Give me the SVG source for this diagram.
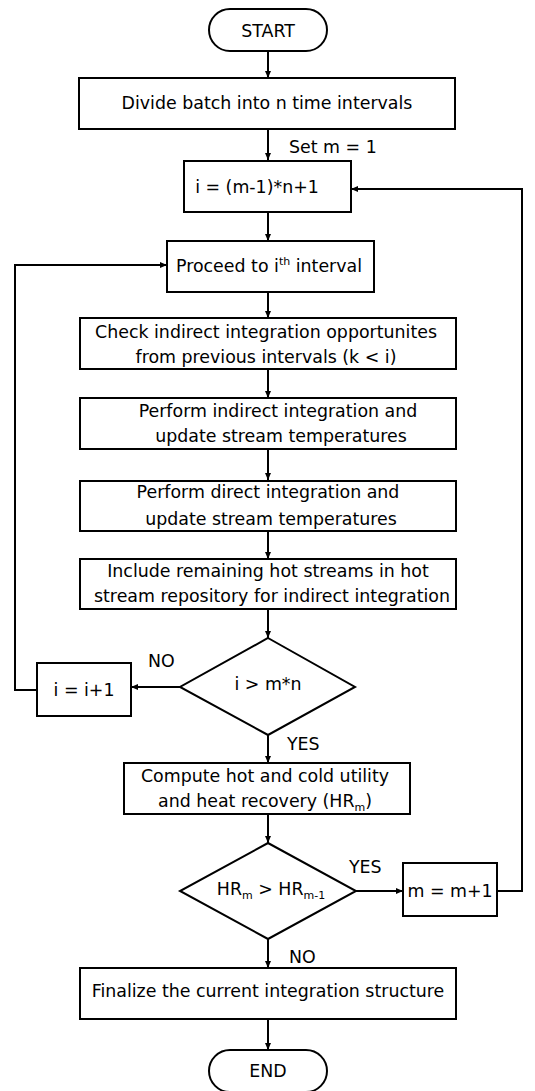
<svg xmlns="http://www.w3.org/2000/svg" width="535" height="1091" viewBox="0 0 535 1091">
<style>
.box{fill:#fff;stroke:#000;stroke-width:2}
.t{font-family:"DejaVu Sans",Verdana,sans-serif;font-size:17.4px;fill:#000;text-anchor:middle}
.l{font-family:"DejaVu Sans",Verdana,sans-serif;font-size:17.4px;fill:#000}
.c{fill:none;stroke:#000;stroke-width:2}
.s{font-size:11px}
</style>
<defs>
<marker id="ah" markerUnits="userSpaceOnUse" markerWidth="8" markerHeight="8" refX="7" refY="3" orient="auto">
<path d="M0,0 L7,3 L0,6 Z" fill="#000"/>
</marker>
</defs>
<rect width="535" height="1091" fill="#fff"/>
<g id="connectors">
<line class="c" x1="268" y1="51" x2="268" y2="78" marker-end="url(#ah)"/>
<line class="c" x1="268" y1="129" x2="268" y2="160" marker-end="url(#ah)"/>
<line class="c" x1="268" y1="212" x2="268" y2="241" marker-end="url(#ah)"/>
<line class="c" x1="268" y1="292" x2="268" y2="318" marker-end="url(#ah)"/>
<line class="c" x1="268" y1="369" x2="268" y2="398" marker-end="url(#ah)"/>
<line class="c" x1="268" y1="449" x2="268" y2="480" marker-end="url(#ah)"/>
<line class="c" x1="268" y1="531" x2="268" y2="559" marker-end="url(#ah)"/>
<line class="c" x1="268" y1="609" x2="268" y2="638" marker-end="url(#ah)"/>
<line class="c" x1="180" y1="687" x2="131" y2="687" marker-end="url(#ah)"/>
<polyline class="c" points="37,690 15,690 15,265 167,265" marker-end="url(#ah)"/>
<line class="c" x1="268" y1="735" x2="268" y2="763" marker-end="url(#ah)"/>
<line class="c" x1="268" y1="814" x2="268" y2="843" marker-end="url(#ah)"/>
<line class="c" x1="356" y1="891" x2="403" y2="891" marker-end="url(#ah)"/>
<polyline class="c" points="497,891 522,891 522,189 351,189" marker-end="url(#ah)"/>
<line class="c" x1="268" y1="939" x2="268" y2="968" marker-end="url(#ah)"/>
<line class="c" x1="268" y1="1019" x2="268" y2="1050" marker-end="url(#ah)"/>
<text class="l" x="289" y="153">Set m = 1</text>
<text class="l" x="148" y="667">NO</text>
<text class="l" x="287" y="750">YES</text>
<text class="l" x="349" y="873">YES</text>
<text class="l" x="289" y="963">NO</text>
</g>
<g id="start">
<rect class="box" x="209" y="9" width="118" height="42" rx="21" ry="21"/>
<text class="t" x="268" y="37">START</text>
</g>
<g id="divide">
<rect class="box" x="79" y="78" width="376" height="51"/>
<text class="t" x="267" y="109">Divide batch into n time intervals</text>
</g>
<g id="init-i">
<rect class="box" x="184" y="161" width="167" height="51"/>
<text class="t" x="257" y="193">i = (m-1)*n+1</text>
</g>
<g id="proceed">
<rect class="box" x="167" y="241" width="207" height="51"/>
<text class="t" x="269" y="272">Proceed to i<tspan class="s" dy="-7">th</tspan><tspan dy="7"> interval</tspan></text>
</g>
<g id="check">
<rect class="box" x="80" y="318" width="376" height="51"/>
<text class="t" x="266" y="338">Check indirect integration opportunites</text>
<text class="t" x="266" y="363">from previous intervals (k &lt; i)</text>
</g>
<g id="indirect">
<rect class="box" x="80" y="398" width="376" height="51"/>
<text class="t" x="278" y="417">Perform indirect integration and</text>
<text class="t" x="281" y="442">update stream temperatures</text>
</g>
<g id="direct">
<rect class="box" x="80" y="481" width="376" height="50"/>
<text class="t" x="268" y="498">Perform direct integration and</text>
<text class="t" x="271" y="525">update stream temperatures</text>
</g>
<g id="include">
<rect class="box" x="80" y="559" width="376" height="50"/>
<text class="t" x="268" y="577">Include remaining hot streams in hot</text>
<text class="t" x="272" y="602">stream repository for indirect integration</text>
</g>
<g id="decision1">
<polygon class="box" points="268,638 355,687 268,735 180,687"/>
<text class="t" x="268" y="690">i &gt; m*n</text>
</g>
<g id="increment-i">
<rect class="box" x="37" y="663" width="94" height="53"/>
<text class="t" x="84" y="696">i = i+1</text>
</g>
<g id="compute">
<rect class="box" x="124" y="763" width="286" height="51"/>
<text class="t" x="265" y="782">Compute hot and cold utility</text>
<text class="t" x="265" y="807">and heat recovery (HR<tspan class="s" dy="4">m</tspan><tspan dy="-4">)</tspan></text>
</g>
<g id="decision2">
<polygon class="box" points="268,843 356,891 268,939 180,891"/>
<text class="t" x="271" y="895">HR<tspan class="s" dy="4">m</tspan><tspan dy="-4"> &gt; HR</tspan><tspan class="s" dy="4">m-1</tspan></text>
</g>
<g id="increment-m">
<rect class="box" x="403" y="863" width="94" height="53"/>
<text class="t" x="450" y="897">m = m+1</text>
</g>
<g id="finalize">
<rect class="box" x="80" y="968" width="376" height="51"/>
<text class="t" x="268" y="997">Finalize the current integration structure</text>
</g>
<g id="end">
<rect class="box" x="209" y="1050" width="118" height="42" rx="21" ry="21"/>
<text class="t" x="268" y="1077">END</text>
</g>
</svg>
